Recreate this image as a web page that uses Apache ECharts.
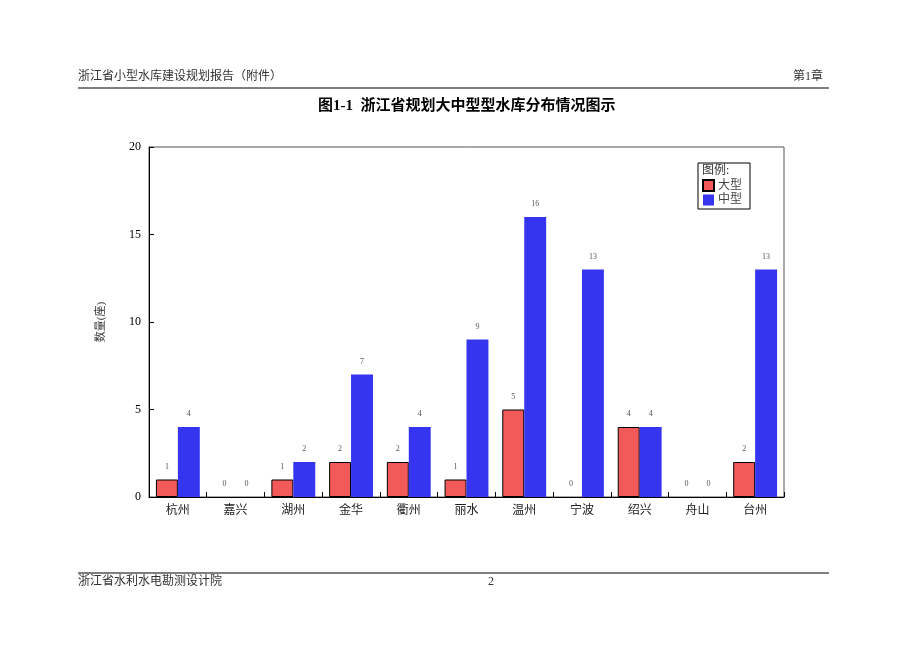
<!DOCTYPE html>
<html><head><meta charset="utf-8">
<script src="https://cdn.jsdelivr.net/npm/echarts@6/dist/echarts.min.js"></script>
<style>html,body{margin:0;padding:0;background:#fff}#c{width:920px;height:651px}</style>
</head><body><div id="c"></div>
<script>
var categories = ['杭州','嘉兴','湖州','金华','衢州','丽水','温州','宁波','绍兴','舟山','台州'];
var largeValues = [1,0,1,2,2,1,5,0,4,0,2];
var mediumValues = [4,0,2,7,4,9,16,13,4,0,13];
var yTicks = [0,5,10,15,20];

var cjk = '"Liberation Serif","Noto Sans CJK SC",serif';
var largeData = largeValues.map(function(v){
  return v === 0 ? {value:v, itemStyle:{borderWidth:0}} : v;
});
var chart = echarts.init(document.getElementById('c'));
chart.setOption({
  backgroundColor:'#fff',
  animation:false,
  grid:{left:149,right:136,top:147,bottom:154,show:true,borderColor:'#555',borderWidth:1},
  legend:{
    orient:'vertical',left:698,top:163,
    data:[{name:'大型',icon:'rect'},{name:'中型',icon:'rect'}],
    itemWidth:11,itemHeight:11,itemGap:2,
    padding:[16,8,3,4],
    borderColor:'#000',borderWidth:1,
    textStyle:{fontFamily:cjk,fontSize:12,color:'#444',padding:[0,0,0,-1]}
  },
  xAxis:{
    type:'category',data:categories,
    axisLine:{lineStyle:{color:'#000',width:1}},
    axisTick:{show:true,inside:true,length:5,lineStyle:{color:'#000'}},
    axisLabel:{fontFamily:cjk,fontSize:12,color:'#222',margin:8}
  },
  yAxis:{
    type:'value',min:yTicks[0],max:yTicks[yTicks.length-1],interval:5,
    name:'数量(座)',nameLocation:'middle',nameGap:42,nameRotate:90,
    nameTextStyle:{fontFamily:cjk,fontSize:11,color:'#333'},
    axisLine:{show:true,lineStyle:{color:'#000',width:1}},
    axisTick:{show:true,inside:true,length:5,lineStyle:{color:'#000'}},
    axisLabel:{fontFamily:cjk,fontSize:12,color:'#000',margin:8},
    splitLine:{show:false}
  },
  series:[
    {name:'大型',type:'bar',data:largeData,barGap:'0%',barCategoryGap:'24%',
     itemStyle:{color:'#f25a5a',borderColor:'#000',borderWidth:1},
     label:{show:true,position:'top',distance:9,fontSize:8,color:'#555',fontFamily:cjk}},
    {name:'中型',type:'bar',data:mediumValues,barGap:'0%',barCategoryGap:'24%',
     itemStyle:{color:'#3535f0'},
     label:{show:true,position:'top',distance:9,fontSize:8,color:'#555',fontFamily:cjk}}
  ],
  graphic:[
    {type:'text',left:702,top:165,style:{text:'图例:',font:'12px '+cjk,fill:'#333'}},
    {type:'text',left:78,top:71,style:{text:'浙江省小型水库建设规划报告（附件）',font:'12px '+cjk,fill:'#333'}},
    {type:'text',right:97,top:71,style:{text:'第1章',font:'12px '+cjk,fill:'#333'}},
    {type:'line',shape:{x1:78,y1:88,x2:829,y2:88},style:{stroke:'#555',lineWidth:1.5}},
    {type:'text',left:318,top:99,style:{text:'图1-1  浙江省规划大中型型水库分布情况图示',font:'bold 15px '+cjk,fill:'#000'}},
    {type:'line',shape:{x1:78,y1:573,x2:829,y2:573},style:{stroke:'#555',lineWidth:1.5}},
    {type:'text',left:78,top:576,style:{text:'浙江省水利水电勘测设计院',font:'12px '+cjk,fill:'#333'}},
    {type:'text',left:488,top:576,style:{text:'2',font:'12px '+cjk,fill:'#333'}}
  ]
});
</script></body></html>
